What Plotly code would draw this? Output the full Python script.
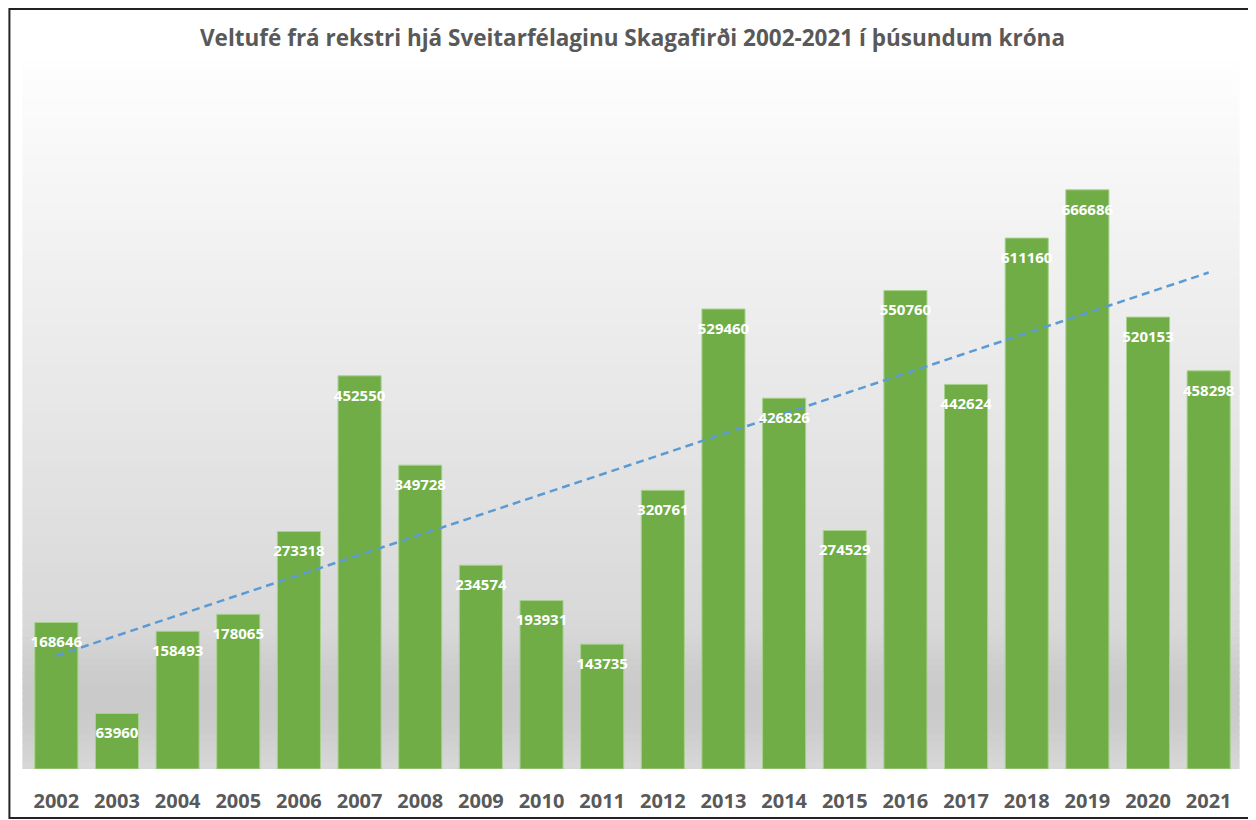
import numpy as np
import plotly.graph_objects as go

years = [str(y) for y in range(2002, 2022)]
values = [168646, 63960, 158493, 178065, 273318, 452550, 349728, 234574, 193931, 143735,
          320761, 529460, 426826, 274529, 550760, 442624, 611160, 666686, 520153, 458298]
title_text = "Veltufé frá rekstri hjá Sveitarfélaginu Skagafirði 2002-2021 í þúsundum króna"

# page has an 8px body margin; design in page pixels, convert with OFF
OFF = 8
W, H = 1256 - OFF, 820 - OFF
ML = 25.6 - OFF
MR = W - (1239.4 - OFF)
MT = 74 - OFF
MB = H - (769 - OFF)
pw, ph = W - ML - MR, H - MT - MB

def px_to_paper_x(px):  # px in page coords
    return (px - OFF - ML) / pw

def px_to_paper_y(py):
    return (H - MB - (py - OFF)) / ph

# linear trend line from data
xi = np.arange(len(values))
slope, intercept = np.polyfit(xi, values, 1)
trend = slope * xi + intercept

shapes = []
top_px, mid_px, bot_px = 60, 630, 769
n = 60
for i in range(n):
    y0 = top_px + (mid_px - top_px) * i / n
    y1 = top_px + (mid_px - top_px) * (i + 1) / n + 1.5
    t = (i + 0.5) / n
    c = int(round(254 - (254 - 216) * t))
    shapes.append(dict(type="rect", xref="paper", yref="paper",
                       x0=px_to_paper_x(22), x1=px_to_paper_x(1240),
                       y0=px_to_paper_y(y1), y1=px_to_paper_y(y0),
                       fillcolor=f"rgb({c},{c},{c})", line_width=0, layer="below"))
m = 20
for i in range(m):
    y0 = mid_px + (bot_px - mid_px) * i / m
    y1 = min(mid_px + (bot_px - mid_px) * (i + 1) / m + 1.5, bot_px)
    t = (i + 0.5) / m
    c = int(round(216 - 14 * np.sin(np.pi * t)))
    shapes.append(dict(type="rect", xref="paper", yref="paper",
                       x0=px_to_paper_x(22), x1=px_to_paper_x(1240),
                       y0=px_to_paper_y(y1), y1=px_to_paper_y(y0),
                       fillcolor=f"rgb({c},{c},{c})", line_width=0, layer="below"))
# outer border
shapes.append(dict(type="rect", xref="paper", yref="paper",
                   x0=px_to_paper_x(OFF + 1), x1=px_to_paper_x(1254),
                   y0=px_to_paper_y(818), y1=px_to_paper_y(OFF + 1),
                   line=dict(color="#222222", width=2), fillcolor="rgba(0,0,0,0)", layer="above"))

fig = go.Figure()
fig.add_trace(go.Bar(
    x=years, y=values,
    marker=dict(color="#70AD47", line=dict(color="#A9D18E", width=1)),
    width=0.71, hoverinfo="x+y", showlegend=False,
))
fig.add_trace(go.Scatter(
    x=years, y=trend, mode="lines",
    line=dict(color="#5B9BD5", width=2.5, dash="8px,5px"),
    showlegend=False, hoverinfo="skip",
))
fig.add_trace(go.Scatter(
    x=years, y=values, mode="markers+text",
    marker=dict(size=20, opacity=0),
    text=[str(v) for v in values], textposition="bottom center",
    textfont=dict(family="Open Sans", size=15, color="white", weight="bold"),
    showlegend=False, hoverinfo="skip",
))

fig.update_layout(
    width=W, height=H,
    margin=dict(l=ML, r=MR, t=MT, b=MB, autoexpand=False),
    paper_bgcolor="white", plot_bgcolor="rgba(0,0,0,0)",
    title=dict(text=title_text, x=0.5, xref="paper", y=1 - (38 - OFF) / H, yanchor="middle",
               font=dict(family="Open Sans", size=22.5, color="#595959", weight="bold")),
    xaxis=dict(type="category", range=[-0.5, len(years) - 0.5], autorange=False,
               showgrid=False, showline=False, zeroline=False,
               ticks="", ticklabelstandoff=18,
               tickfont=dict(family="Open Sans", size=20, color="#595959", weight="bold")),
    yaxis=dict(range=[0, 800000], autorange=False, visible=False, showgrid=False, zeroline=False),
    bargap=0.29,
    shapes=shapes,
)

fig.write_html("out.html")
